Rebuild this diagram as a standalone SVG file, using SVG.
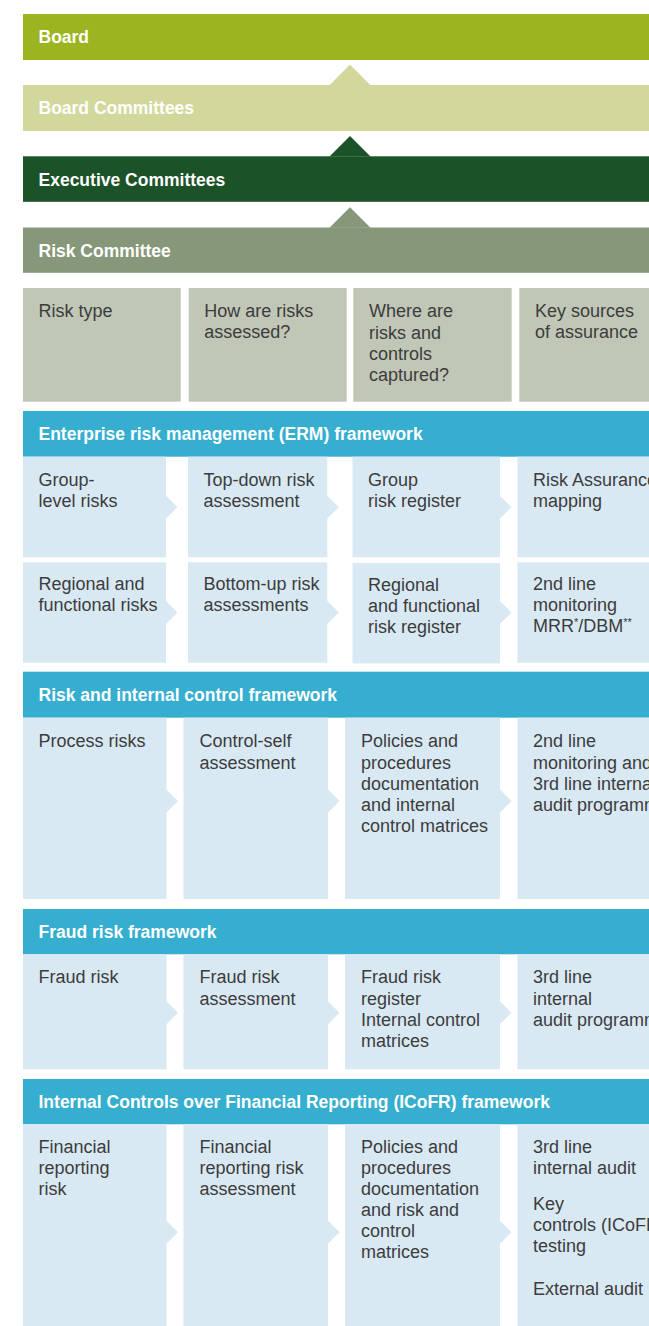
<svg xmlns="http://www.w3.org/2000/svg" width="649" height="1326" viewBox="0 0 649 1326">
<style>
  .bar-text { font-family: "Liberation Sans", Arial, sans-serif; font-size: 17.5px; font-weight: bold; fill: #ffffff; }
  .body { font-family: "Liberation Sans", Arial, sans-serif; font-size: 18px; fill: #3c3c3c; }
  .sup { font-size: 11px; }
  .board { fill: #9cb41f; }
  .bcomm { fill: #d2d89c; }
  .exec { fill: #1b5228; }
  .risk { fill: #87977a; }
  .head { fill: #c1c7b7; }
  .blue { fill: #35aed0; }
  .cell { fill: #d9e9f4; }
</style>
<rect width="649" height="1326" fill="#ffffff"/>

<!-- Governance bars -->
<g id="board"><rect class="board" x="23" y="14" width="626" height="46"/><text class="bar-text" x="38.5" y="43.3">Board</text></g>
<g id="board-committees"><rect class="bcomm" x="23" y="85" width="626" height="46"/><text class="bar-text" x="38.5" y="114.3">Board Committees</text></g>
<g id="executive-committees"><rect class="exec" x="23" y="156.3" width="626" height="45.5"/><text class="bar-text" x="38.5" y="185.6">Executive Committees</text></g>
<g id="risk-committee"><rect class="risk" x="23" y="227.5" width="626" height="45.3"/><text class="bar-text" x="38.5" y="256.7">Risk Committee</text></g>

<!-- Column headers -->
<g id="hdr-risk-type"><rect class="head" x="23" y="288" width="157.7" height="113.7"/><text class="body" x="38.5" y="317.3">Risk type</text></g>
<g id="hdr-how"><rect class="head" x="188.7" y="288" width="158" height="113.7"/><text class="body" x="204.2" y="317.3">How are risks<tspan x="204.2" dy="21">assessed?</tspan></text></g>
<g id="hdr-where"><rect class="head" x="353.3" y="288" width="158.4" height="113.7"/><text class="body" x="369" y="317.3">Where are<tspan x="369" dy="21.2">risks and</tspan><tspan x="369" dy="21.2">controls</tspan><tspan x="369" dy="21.2">captured?</tspan></text></g>
<g id="hdr-key"><rect class="head" x="519.3" y="288" width="129.7" height="113.7"/><text class="body" x="535" y="317.3">Key sources<tspan x="535" dy="21">of assurance</tspan></text></g>

<!-- ERM framework -->
<g id="erm-header"><rect class="blue" x="23" y="411" width="626" height="45.7"/><text class="bar-text" x="38.5" y="440">Enterprise risk management (ERM) framework</text></g>
<g id="erm-r1c1"><rect class="cell" x="23" y="456.7" width="143" height="100.6"/><text class="body" x="38.5" y="485.7">Group-<tspan x="38.5" dy="21">level risks</tspan></text></g>
<g id="erm-r1c2"><rect class="cell" x="188" y="456.7" width="139.3" height="100.6"/><text class="body" x="203.5" y="485.7">Top-down risk<tspan x="203.5" dy="21">assessment</tspan></text></g>
<g id="erm-r1c3"><rect class="cell" x="352.5" y="456.7" width="147.5" height="100.6"/><text class="body" x="368" y="485.7">Group<tspan x="368" dy="21">risk register</tspan></text></g>
<g id="erm-r1c4"><rect class="cell" x="517.5" y="456.7" width="131.5" height="100.6"/><text class="body" x="533" y="485.7">Risk Assurance<tspan x="533" dy="21">mapping</tspan></text></g>
<g id="erm-r2c1"><rect class="cell" x="23" y="562.3" width="143" height="100.4"/><text class="body" x="38.5" y="590">Regional and<tspan x="38.5" dy="21">functional risks</tspan></text></g>
<g id="erm-r2c2"><rect class="cell" x="188" y="562.3" width="139.3" height="100.4"/><text class="body" x="203.5" y="590">Bottom-up risk<tspan x="203.5" dy="21">assessments</tspan></text></g>
<g id="erm-r2c3"><rect class="cell" x="352.5" y="563" width="147.5" height="100.4"/><text class="body" x="368" y="590.5">Regional<tspan x="368" dy="21">and functional</tspan><tspan x="368" dy="21">risk register</tspan></text></g>
<g id="erm-r2c4"><rect class="cell" x="517.5" y="562.3" width="131.5" height="100.4"/><text class="body" x="533" y="590">2nd line<tspan x="533" dy="21">monitoring</tspan><tspan x="533" dy="21">MRR</tspan><tspan class="sup" dy="-6">*</tspan><tspan dy="6">/DBM</tspan><tspan class="sup" dy="-6">**</tspan></text></g>

<!-- Risk and internal control framework -->
<g id="ric-header"><rect class="blue" x="23" y="671.7" width="626" height="46"/><text class="bar-text" x="38.5" y="701.3">Risk and internal control framework</text></g>
<g id="ric-c1"><rect class="cell" x="23" y="717.7" width="143.5" height="181.3"/><text class="body" x="38.5" y="747.3">Process risks</text></g>
<g id="ric-c2"><rect class="cell" x="183.5" y="717.7" width="144.5" height="181.3"/><text class="body" x="199.5" y="747.3">Control-self<tspan x="199.5" dy="21.2">assessment</tspan></text></g>
<g id="ric-c3"><rect class="cell" x="345" y="717.7" width="155" height="181.3"/><text class="body" x="361" y="747.3">Policies and<tspan x="361" dy="21.2">procedures</tspan><tspan x="361" dy="21.2">documentation</tspan><tspan x="361" dy="21.2">and internal</tspan><tspan x="361" dy="21.2">control matrices</tspan></text></g>
<g id="ric-c4"><rect class="cell" x="517.5" y="717.7" width="131.5" height="181.3"/><text class="body" x="533" y="747.3">2nd line<tspan x="533" dy="21.2">monitoring and</tspan><tspan x="533" dy="21.2">3rd line internal</tspan><tspan x="533" dy="21.2">audit programme</tspan></text></g>

<!-- Fraud risk framework -->
<g id="fraud-header"><rect class="blue" x="23" y="909" width="626" height="45.3"/><text class="bar-text" x="38.5" y="937.8">Fraud risk framework</text></g>
<g id="fraud-c1"><rect class="cell" x="23" y="954.3" width="143.5" height="115"/><text class="body" x="38.5" y="983.3">Fraud risk</text></g>
<g id="fraud-c2"><rect class="cell" x="183.5" y="954.3" width="144.5" height="115"/><text class="body" x="199.5" y="983.3">Fraud risk<tspan x="199.5" dy="21.2">assessment</tspan></text></g>
<g id="fraud-c3"><rect class="cell" x="345" y="954.3" width="155" height="115"/><text class="body" x="361" y="983.3">Fraud risk<tspan x="361" dy="21.2">register</tspan><tspan x="361" dy="21.2">Internal control</tspan><tspan x="361" dy="21.2">matrices</tspan></text></g>
<g id="fraud-c4"><rect class="cell" x="517.5" y="954.3" width="131.5" height="115"/><text class="body" x="533" y="983.3">3rd line<tspan x="533" dy="21.2">internal</tspan><tspan x="533" dy="21.2">audit programme</tspan></text></g>

<!-- ICoFR framework -->
<g id="icofr-header"><rect class="blue" x="23" y="1079" width="626" height="45.3"/><text class="bar-text" x="38.5" y="1107.6">Internal Controls over Financial Reporting (ICoFR) framework</text></g>
<g id="icofr-c1"><rect class="cell" x="23" y="1124.3" width="143.5" height="201.7"/><text class="body" x="38.5" y="1153.3">Financial<tspan x="38.5" dy="21">reporting</tspan><tspan x="38.5" dy="21">risk</tspan></text></g>
<g id="icofr-c2"><rect class="cell" x="183.5" y="1124.3" width="144.5" height="201.7"/><text class="body" x="199.5" y="1153.3">Financial<tspan x="199.5" dy="21">reporting risk</tspan><tspan x="199.5" dy="21">assessment</tspan></text></g>
<g id="icofr-c3"><rect class="cell" x="345" y="1124.3" width="155" height="201.7"/><text class="body" x="361" y="1153.3">Policies and<tspan x="361" dy="21">procedures</tspan><tspan x="361" dy="21">documentation</tspan><tspan x="361" dy="21">and risk and</tspan><tspan x="361" dy="21">control</tspan><tspan x="361" dy="21">matrices</tspan></text></g>
<g id="icofr-c4"><rect class="cell" x="517.5" y="1124.3" width="131.5" height="201.7"/><text class="body" x="533" y="1153.3">3rd line<tspan x="533" dy="21">internal audit</tspan><tspan x="533" dy="35.5">Key</tspan><tspan x="533" dy="21.3">controls (ICoFR)</tspan><tspan x="533" dy="21">testing</tspan><tspan x="533" dy="42.5">External audit</tspan></text></g>

<!-- Connectors: upward triangles and rightward chevrons -->
<g id="connectors">
  <polygon class="bcomm" points="329.5,85.3 350,64.5 370.5,85.3"/>
  <polygon class="exec" points="329.5,156.6 350,136 370.5,156.6"/>
  <polygon class="risk" points="329.5,227.8 350,207.3 370.5,227.8"/>

  <polygon class="cell" points="165.5,495.3 177.5,507.2 165.5,519.1"/>
  <polygon class="cell" points="326.8,495.3 338.8,507.2 326.8,519.1"/>
  <polygon class="cell" points="499.5,495.3 511.5,507.2 499.5,519.1"/>

  <polygon class="cell" points="165.5,600.6 177.5,612.5 165.5,624.4"/>
  <polygon class="cell" points="326.8,600.6 338.8,612.5 326.8,624.4"/>
  <polygon class="cell" points="499.5,600.6 511.5,612.5 499.5,624.4"/>

  <polygon class="cell" points="166,789 178,801 166,813"/>
  <polygon class="cell" points="327.5,789 339.5,801 327.5,813"/>
  <polygon class="cell" points="499.5,789 511.5,801 499.5,813"/>

  <polygon class="cell" points="166,1000.7 178,1012.7 166,1024.7"/>
  <polygon class="cell" points="327.5,1000.7 339.5,1012.7 327.5,1024.7"/>
  <polygon class="cell" points="499.5,1000.7 511.5,1012.7 499.5,1024.7"/>

  <polygon class="cell" points="166,1220.3 178,1232.3 166,1244.3"/>
  <polygon class="cell" points="327.5,1220.3 339.5,1232.3 327.5,1244.3"/>
  <polygon class="cell" points="499.5,1220.3 511.5,1232.3 499.5,1244.3"/>
</g>
</svg>
